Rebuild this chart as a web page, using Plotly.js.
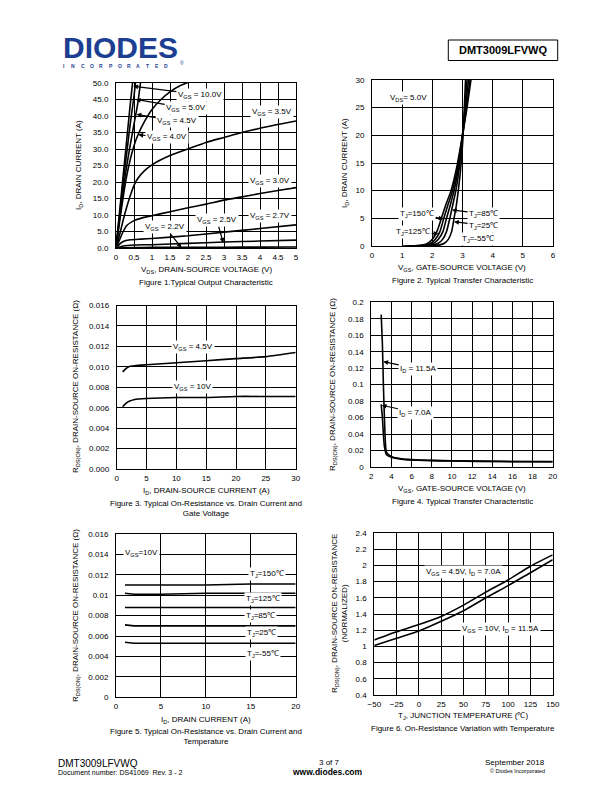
<!DOCTYPE html>
<html><head><meta charset="utf-8">
<script src="https://cdn.plot.ly/plotly-3.0.1.min.js"></script>
<style>html,body{margin:0;padding:0;background:#fff}#chart{width:612px;height:792px}</style>
</head><body><div id="chart"></div>
<script>
// ---------- Figure 1: output characteristic (VDS vs ID) ----------
const f1_vgs10_x = [0,0.1,0.2,0.3,0.4,0.46];
const f1_vgs10_y = [0,11,22,33,44,50];
const f1_vgs5_x = [0,0.1,0.2,0.3,0.4,0.5,0.54];
const f1_vgs5_y = [0,10,20,29,38,46,50];
const f1_vgs45_x = [0,0.1,0.2,0.3,0.4,0.5,0.6,0.68];
const f1_vgs45_y = [0,9,17.5,25,31.5,37.5,43.5,50];
const f1_vgs4_x = [0,0.1,0.2,0.3,0.4,0.5,0.6,0.8,1.0,1.25,1.5,1.75,2.0];
const f1_vgs4_y = [0,8,15.5,22,27,31,34,38.5,42,45,47.3,49,50.2];
const f1_vgs35_x = [0,0.1,0.2,0.3,0.4,0.5,0.6,0.8,1.0,1.5,2,2.5,3,3.5,4,4.5,5];
const f1_vgs35_y = [0,4,8.5,12.5,16,19,21,23.5,25.2,28,30,32,33.5,35,36.3,37.4,38.5];
const f1_vgs3_x = [0,0.1,0.2,0.3,0.5,0.75,1,1.5,2,2.5,3,3.5,4,4.5,5];
const f1_vgs3_y = [0,2.5,5,6.8,8.3,9.2,9.8,11,12.2,13.3,14.5,15.5,16.5,17.4,18.3];
const f1_vgs27_x = [0,0.1,0.2,0.4,0.7,1,2,3,4,5];
const f1_vgs27_y = [0,1.2,2,2.5,2.7,2.9,3.7,4.8,5.9,7.0];
const f1_vgs25_x = [0,0.2,0.5,1,2,3,4,5];
const f1_vgs25_y = [0,0.6,0.9,1.0,1.4,1.8,2.1,2.4];
const f1_vgs22_x = [0,0.5,1,2,3,4,5];
const f1_vgs22_y = [0,0.15,0.18,0.22,0.25,0.28,0.3];

// ---------- Figure 2: transfer characteristic (VGS vs ID) ----------
const f2_id = [0,0.05,0.2,0.5,1.2,2.6,5,7.5,10,14,20,25,30];
const f2_t150_vgs = [1.0,1.4,1.7,1.85,2.0,2.15,2.3,2.45,2.62,2.8,3.0,3.15,3.28];
const f2_t125_vgs = [1.1,1.5,1.8,1.95,2.1,2.25,2.38,2.52,2.67,2.83,3.0,3.13,3.25];
const f2_t85_vgs  = [1.2,1.6,1.9,2.05,2.2,2.35,2.47,2.6,2.72,2.86,3.0,3.1,3.2];
const f2_t25_vgs  = [1.3,1.75,2.05,2.2,2.34,2.47,2.58,2.68,2.78,2.89,3.0,3.08,3.15];
const f2_tm55_vgs = [1.5,1.95,2.25,2.4,2.53,2.64,2.72,2.8,2.86,2.94,3.02,3.06,3.1];

// ---------- Figure 3: RDS(ON) vs ID and VGS ----------
const f3_id = [1,1.5,2,3,5,10,15,20,25,30];
const f3_vgs45 = [0.0095,0.0098,0.0100,0.0101,0.0102,0.0104,0.0106,0.0108,0.0110,0.0114];
const f3_vgs10 = [0.0061,0.0064,0.0066,0.0068,0.0069,0.0070,0.0070,0.0071,0.0071,0.0071];

// ---------- Figure 4: RDS(ON) vs VGS ----------
const f4_id115_vgs = [2.98,3.1,3.2,3.3,3.4,3.5,4,5,6,8,10,15,20];
const f4_id115_r = [0.185,0.15,0.1,0.06,0.03,0.018,0.0125,0.010,0.009,0.008,0.0075,0.0068,0.0065];
const f4_id7_vgs = [2.98,3.1,3.2,3.3,3.5,4,5,6,8,10,15,20];
const f4_id7_r = [0.076,0.06,0.04,0.025,0.015,0.012,0.0095,0.0085,0.0078,0.0072,0.0066,0.0063];

// ---------- Figure 5: RDS(ON) vs ID and temperature ----------
const f5_id = [1,2,5,10,15,20];
const f5_t150 = [0.0110,0.0110,0.0110,0.0110,0.0111,0.0111];
const f5_t125 = [0.0102,0.0101,0.0101,0.0102,0.0102,0.0102];
const f5_t85  = [0.0088,0.0088,0.0088,0.0088,0.0088,0.0088];
const f5_t25  = [0.0071,0.0070,0.0070,0.0070,0.0070,0.0070];
const f5_tm55 = [0.0054,0.0053,0.0053,0.0053,0.0053,0.0053];

// ---------- Figure 6: normalized RDS(ON) vs TJ ----------
const f6_tj = [-50,-25,0,25,50,75,100,125,150];
const f6_vgs45 = [1.08,1.18,1.27,1.37,1.51,1.67,1.82,1.99,2.13];
const f6_vgs10 = [1.01,1.10,1.19,1.31,1.44,1.60,1.75,1.91,2.07];

// ---------- layout helpers ----------
const W = 612, H = 792;
const FONT = 'Liberation Sans, Arial, sans-serif';
const px = (x) => x / W;
const py = (y) => 1 - y / H;

function axis(domain, range, dtick, extra) {
  return Object.assign({
    domain: domain, range: range, dtick: dtick, tick0: range[0],
    showline: true, mirror: true, linecolor: '#000', linewidth: 1,
    showgrid: true, gridcolor: '#000', gridwidth: 1, zeroline: false,
    ticks: '', ticklabelstandoff: 1,
    tickfont: {family: FONT, size: 8, color: '#000'}, fixedrange: true
  }, extra || {});
}

const traces = [];
function line(x, y, xa, ya, shape) {
  traces.push({x: x, y: y, xaxis: xa, yaxis: ya, mode: 'lines', type: 'scatter',
    line: {color: '#000', width: 1.6, shape: shape || 'spline', smoothing: 0.6},
    hoverinfo: 'skip', cliponaxis: true});
}

line(f1_vgs10_x, f1_vgs10_y, 'x', 'y');
line(f1_vgs5_x, f1_vgs5_y, 'x', 'y');
line(f1_vgs45_x, f1_vgs45_y, 'x', 'y');
line(f1_vgs4_x, f1_vgs4_y, 'x', 'y');
line(f1_vgs35_x, f1_vgs35_y, 'x', 'y');
line(f1_vgs3_x, f1_vgs3_y, 'x', 'y');
line(f1_vgs27_x, f1_vgs27_y, 'x', 'y');
line(f1_vgs25_x, f1_vgs25_y, 'x', 'y');
line(f1_vgs22_x, f1_vgs22_y, 'x', 'y');

line(f2_t150_vgs, f2_id, 'x2', 'y2');
line(f2_t125_vgs, f2_id, 'x2', 'y2');
line(f2_t85_vgs, f2_id, 'x2', 'y2');
line(f2_t25_vgs, f2_id, 'x2', 'y2');
line(f2_tm55_vgs, f2_id, 'x2', 'y2');

line(f3_id, f3_vgs45, 'x3', 'y3');
line(f3_id, f3_vgs10, 'x3', 'y3');

line(f4_id115_vgs, f4_id115_r, 'x4', 'y4');
line(f4_id7_vgs, f4_id7_r, 'x4', 'y4');

line(f5_id, f5_t150, 'x5', 'y5', 'linear');
line(f5_id, f5_t125, 'x5', 'y5', 'linear');
line(f5_id, f5_t85, 'x5', 'y5', 'linear');
line(f5_id, f5_t25, 'x5', 'y5', 'linear');
line(f5_id, f5_tm55, 'x5', 'y5', 'linear');

line(f6_tj, f6_vgs45, 'x6', 'y6');
line(f6_tj, f6_vgs10, 'x6', 'y6');

const ann = [];
function ptxt(x, y, text, o) {
  ann.push(Object.assign({xref: 'paper', yref: 'paper', x: px(x), y: py(y), text: text,
    showarrow: false, xanchor: 'center', yanchor: 'middle',
    font: {family: FONT, size: 8, color: '#000'}}, o || {}));
}
function lab(xa, ya, x, y, text, tip) {
  const a = {xref: xa, yref: ya, text: text, bgcolor: '#fff', borderpad: 1,
    font: {family: FONT, size: 8, color: '#000'}, xanchor: 'center', yanchor: 'middle'};
  if (tip) {
    Object.assign(a, {x: tip[0], y: tip[1], ax: x, ay: y, axref: xa, ayref: ya,
      showarrow: true, arrowhead: 2, arrowsize: 0.8, arrowwidth: 1.2, arrowcolor: '#000', standoff: 0});
  } else {
    Object.assign(a, {x: x, y: y, showarrow: false});
  }
  ann.push(a);
}

// Figure 1 labels
lab('x', 'y', 2.33, 46.5, 'V<sub>GS</sub> = 10.0V', [0.48, 49]);
lab('x', 'y', 1.95, 42.4, 'V<sub>GS</sub> = 5.0V', [0.55, 45]);
lab('x', 'y', 1.7, 38.4, 'V<sub>GS</sub> = 4.5V', [0.57, 40.5]);
lab('x', 'y', 1.42, 33.5, 'V<sub>GS</sub> = 4.0V', [0.62, 34.3]);
lab('x', 'y', 4.32, 41.1, 'V<sub>GS</sub> = 3.5V');
lab('x', 'y', 4.28, 20.4, 'V<sub>GS</sub> = 3.0V');
lab('x', 'y', 4.28, 9.8, 'V<sub>GS</sub> = 2.7V');
lab('x', 'y', 2.8, 8.4, 'V<sub>GS</sub> = 2.5V', [2.98, 1.6]);
lab('x', 'y', 1.36, 6.3, 'V<sub>GS</sub> = 2.2V', [1.82, 0.1]);

// Figure 2 labels
lab('x2', 'y2', 1.2, 26.7, 'V<sub>DS</sub>= 5.0V');
lab('x2', 'y2', 1.5, 5.8, 'T<sub>J</sub>=150℃', [2.37, 4.9]);
lab('x2', 'y2', 1.37, 2.5, 'T<sub>J</sub>=125℃', [2.2, 2.2]);
lab('x2', 'y2', 3.7, 5.8, 'T<sub>J</sub>=85℃', [2.65, 6.5]);
lab('x2', 'y2', 3.7, 3.7, 'T<sub>J</sub>=25℃', [2.72, 4.4]);
lab('x2', 'y2', 3.51, 1.3, 'T<sub>J</sub>=-55℃');

// Figure 3 labels
lab('x3', 'y3', 12.85, 0.0119, 'V<sub>GS</sub> = 4.5V');
lab('x3', 'y3', 12.7, 0.0080, 'V<sub>GS</sub> = 10V');

// Figure 4 labels
lab('x4', 'y4', 6.66, 0.119, 'I<sub>D</sub> = 11.5A', [3.19, 0.128]);
lab('x4', 'y4', 6.43, 0.066, 'I<sub>D</sub> = 7.0A', [3.03, 0.075]);

// Figure 5 labels
lab('x5', 'y5', 2.86, 0.0141, 'V<sub>GS</sub>=10V');
lab('x5', 'y5', 16.8, 0.0121, 'T<sub>J</sub>=150℃');
lab('x5', 'y5', 16.4, 0.0096, 'T<sub>J</sub>=125℃');
lab('x5', 'y5', 16.1, 0.0080, 'T<sub>J</sub>=85℃');
lab('x5', 'y5', 16.2, 0.0063, 'T<sub>J</sub>=25℃');
lab('x5', 'y5', 16.4, 0.0042, 'T<sub>J</sub>=-55℃');

// Figure 6 labels
lab('x6', 'y6', 49.8, 1.92, 'V<sub>GS</sub> = 4.5V, I<sub>D</sub> = 7.0A');
lab('x6', 'y6', 91, 1.22, 'V<sub>GS</sub> = 10V, I<sub>D</sub> = 11.5A');

// axis titles
ptxt(206, 270, 'V<sub>DS</sub>, DRAIN-SOURCE VOLTAGE (V)');
ptxt(79, 165, 'I<sub>D</sub>, DRAIN CURRENT (A)', {textangle: -90});
ptxt(462, 268, 'V<sub>GS</sub>, GATE-SOURCE VOLTAGE (V)');
ptxt(345, 163, 'I<sub>D</sub>, DRAIN CURRENT (A)', {textangle: -90});
ptxt(206, 491, 'I<sub>D</sub>, DRAIN-SOURCE CURRENT (A)');
ptxt(76, 387, 'R<sub>DS(ON)</sub>, DRAIN-SOURCE ON-RESISTANCE (Ω)', {textangle: -90});
ptxt(462, 489, 'V<sub>GS</sub>, GATE-SOURCE VOLTAGE (V)');
ptxt(333, 385, 'R<sub>DS(ON)</sub>, DRAIN-SOURCE ON-RESISTANCE (Ω)', {textangle: -90});
ptxt(206, 720, 'I<sub>D</sub>, DRAIN CURRENT (A)');
ptxt(76, 616, 'R<sub>DS(ON)</sub>, DRAIN-SOURCE ON-RESISTANCE (Ω)', {textangle: -90});
ptxt(463, 716, 'T<sub>J</sub>, JUNCTION TEMPERATURE (℃)');
ptxt(339, 614, 'R<sub>DS(ON)</sub>, DRAIN-SOURCE ON-RESISTANCE<br>(NORMALIZED)', {textangle: -90});

// captions
ptxt(206, 283, 'Figure 1.Typical Output Characteristic');
ptxt(462, 280, 'Figure 2. Typical Transfer Characteristic');
ptxt(206, 508, 'Figure 3. Typical On-Resistance vs. Drain Current and<br>Gate Voltage');
ptxt(462, 501, 'Figure 4. Typical Transfer Characteristic');
ptxt(206, 736, 'Figure 5. Typical On-Resistance vs. Drain Current and<br>Temperature');
ptxt(463, 728, 'Figure 6. On-Resistance Variation with Temperature');

// header
const LOGO_SUB = 'INCORPORATED';
ptxt(61, 47, '<b>DIODES</b>', {xanchor: 'left', font: {family: FONT, size: 30, color: '#1d3f92'}});
LOGO_SUB.split('').forEach((ch, i) => {
  ptxt(64 + i * 9.3, 66, '<b>' + ch + '</b>', {font: {family: FONT, size: 5, color: '#1d3f92'}});
});
ptxt(182, 63, '®', {font: {family: FONT, size: 5, color: '#1d3f92'}});
ptxt(503, 50, '<b>DMT3009LFVWQ</b>', {font: {family: FONT, size: 11, color: '#000'}});

// footer
ptxt(56, 763, 'DMT3009LFVWQ', {xanchor: 'left', font: {family: FONT, size: 10, color: '#000'}});
ptxt(56, 772, 'Document number: DS41069\u00a0 Rev. 3 - 2', {xanchor: 'left', font: {family: FONT, size: 7, color: '#000'}});
ptxt(329, 762, '3 of 7', {font: {family: FONT, size: 8, color: '#000'}});
ptxt(327, 772, '<b>www.diodes.com</b>', {font: {family: FONT, size: 8.5, color: '#000'}});
ptxt(547, 762, 'September 2018', {xanchor: 'right', font: {family: FONT, size: 8, color: '#000'}});
ptxt(547, 771, '© Diodes Incorporated', {xanchor: 'right', font: {family: FONT, size: 5.5, color: '#000'}});

const YS = {ticklabelstandoff: 5};
const layout = {
  width: W, height: H, margin: {l: 0, r: 0, t: 0, b: 0},
  paper_bgcolor: '#fff', plot_bgcolor: '#fff', showlegend: false,
  xaxis:  axis([px(116), px(296)], [0, 5], 0.5, {anchor: 'y'}),
  yaxis:  axis([py(248), py(83)], [0, 50], 5, Object.assign({anchor: 'x', tickformat: '.1f'}, YS)),
  xaxis2: axis([px(372), px(553)], [0, 6], 1, {anchor: 'y2'}),
  yaxis2: axis([py(246), py(80)], [0, 30], 5, Object.assign({anchor: 'x2'}, YS)),
  xaxis3: axis([px(116.7), px(295.7)], [0, 30], 5, {anchor: 'y3'}),
  yaxis3: axis([py(469), py(305.5)], [0, 0.016], 0.002, Object.assign({anchor: 'x3', tickformat: '.3f'}, YS)),
  xaxis4: axis([px(371.3), px(552.7)], [2, 20], 2, {anchor: 'y4'}),
  yaxis4: axis([py(467), py(302.3)], [0, 0.2], 0.02, Object.assign({anchor: 'x4'}, YS)),
  xaxis5: axis([px(116), px(295.7)], [0, 20], 5, {anchor: 'y5'}),
  yaxis5: axis([py(697.3), py(534)], [0, 0.016], 0.002, Object.assign({anchor: 'x5'}, YS)),
  xaxis6: axis([px(374.3), px(552.7)], [-50, 150], 25, {anchor: 'y6'}),
  yaxis6: axis([py(695), py(533)], [0.4, 2.4], 0.2, Object.assign({anchor: 'x6'}, YS)),
  annotations: ann,
  shapes: [{type: 'rect', xref: 'paper', yref: 'paper', x0: px(448.3), x1: px(557.7), y0: py(60.5), y1: py(40),
    line: {color: '#000', width: 1}}]
};

Plotly.newPlot('chart', traces, layout, {staticPlot: true, displayModeBar: false});
</script></body></html>
